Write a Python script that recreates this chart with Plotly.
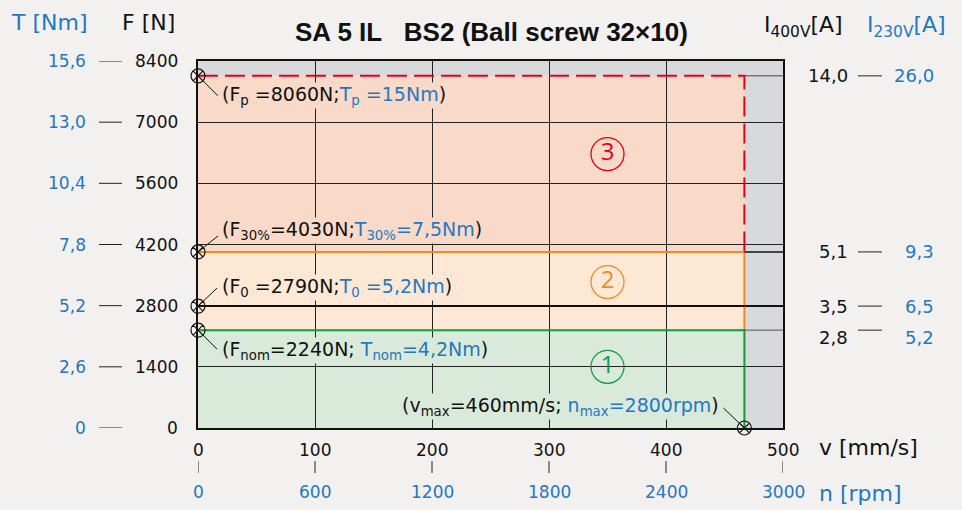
import plotly.graph_objects as go

# ---------------- data ----------------
F_ticks = [0, 1400, 2800, 4200, 5600, 7000, 8400]
T_labels = ["0", "2,6", "5,2", "7,8", "10,4", "13,0", "15,6"]
v_ticks = [0, 100, 200, 300, 400, 500]
n_labels = ["0", "600", "1200", "1800", "2400", "3000"]

F_p, F_30, F_0, F_nom = 8060, 4030, 2790, 2240
v_max = 467
I400_labels = ["14,0", "5,1", "3,5", "2,8"]
I230_labels = ["26,0", "9,3", "6,5", "5,2"]
I_levels = [F_p, F_30, F_0, F_nom]

zone_labels = ["1", "2", "3"]
zone_label_v = [350, 350, 350]
zone_label_F = [1400, 3340, 6270]

# ---------------- style ----------------
BLUE = "#2378c0"
RED = "#e2001a"
ORANGE = "#f08a24"
GREEN = "#0f9a3e"
Z3 = "#f9d9c8"
Z2 = "#fde8d6"
Z1 = "#d9eada"
GRAY = "#d8d9db"
PAPER = "#f2f1ef"
FONT = "DejaVu Sans"

L, R, T, B = 198, 179, 61, 82
W, H = 962, 510
PW, PH = W - L - R, H - T - B


def px_x(p):
    return (p - L) / PW


def px_y(p):
    return (H - B - p) / PH


fig = go.Figure()

# limit lines
fig.add_trace(go.Scatter(x=[0, v_max, v_max], y=[F_p, F_p, F_30], mode="lines",
                         line=dict(color=RED, width=2, dash="20px,7px"), hoverinfo="skip"))
fig.add_trace(go.Scatter(x=[0, v_max, v_max], y=[F_30, F_30, F_nom], mode="lines",
                         line=dict(color=ORANGE, width=2), hoverinfo="skip"))
fig.add_trace(go.Scatter(x=[0, v_max], y=[F_0, F_0], mode="lines",
                         line=dict(color="#111", width=2), hoverinfo="skip"))
fig.add_trace(go.Scatter(x=[0, v_max, v_max], y=[F_nom, F_nom, 0], mode="lines",
                         line=dict(color=GREEN, width=2), hoverinfo="skip"))

# marker points
fig.add_trace(go.Scatter(x=[0, 0, 0, 0, v_max], y=[F_p, F_30, F_0, F_nom, 0], mode="markers",
                         marker=dict(symbol="circle-x-open", size=14, color="#111", line=dict(width=1.2)),
                         cliponaxis=False, hoverinfo="skip"))

# zone numbers
for lab, vv, ff, col in zip(zone_labels, zone_label_v, zone_label_F, [GREEN, ORANGE, RED]):
    fig.add_trace(go.Scatter(x=[vv], y=[ff], mode="markers+text", text=[lab],
                             textposition="middle center",
                             textfont=dict(family="Open Sans", size=24, color=col),
                             marker=dict(symbol="circle-open", size=33, color=col, line=dict(width=1.3)),
                             hoverinfo="skip"))

shapes = []
# zones (below gridlines)
shapes.append(dict(type="rect", xref="x", yref="y", x0=0, x1=v_max, y0=F_30, y1=F_p,
                   fillcolor=Z3, line=dict(width=0), layer="below"))
shapes.append(dict(type="rect", xref="x", yref="y", x0=0, x1=v_max, y0=F_nom, y1=F_30,
                   fillcolor=Z2, line=dict(width=0), layer="below"))
shapes.append(dict(type="rect", xref="x", yref="y", x0=0, x1=v_max, y0=0, y1=F_nom,
                   fillcolor=Z1, line=dict(width=0), layer="below"))

# extension lines to right-hand current labels
ext_cols = ["#444", "#111", "#111", "#555"]
ext_w = [1, 1.5, 2, 1]
for lvl, c, w in zip(I_levels, ext_cols, ext_w):
    shapes.append(dict(type="line", xref="x", yref="y", xsizemode="pixel", xanchor=v_max,
                       x0=0, x1=53, y0=lvl, y1=lvl, line=dict(color=c, width=w)))

# leader lines from markers to labels
leaders = [(0, F_p, 20, -20), (0, F_30, 20, 16), (0, F_0, 19, 18), (0, F_nom, 19, -19), (v_max, 0, -21, 20)]
for vx, fy, dx, dy in leaders:
    shapes.append(dict(type="line", xref="x", yref="y", xsizemode="pixel", ysizemode="pixel",
                       xanchor=vx, yanchor=fy, x0=0, x1=dx, y0=0, y1=dy,
                       line=dict(color="#111", width=1)))

annotations = []

# left tick labels (T, dash, F)
for f, tl in zip(F_ticks, T_labels):
    annotations.append(dict(xref="paper", yref="y", x=px_x(88), y=f, text=tl, showarrow=False,
                            xanchor="right", yanchor="middle", font=dict(family=FONT, size=17, color=BLUE)))
    annotations.append(dict(xref="paper", yref="y", x=px_x(180), y=f, text=str(f), showarrow=False,
                            xanchor="right", yanchor="middle", font=dict(family=FONT, size=17, color="#111")))
    shapes.append(dict(type="line", xref="paper", yref="y", x0=px_x(99), x1=px_x(122), y0=f, y1=f,
                       line=dict(color="#222", width=1)))

# bottom tick labels (v, tick, n)
for v, nl in zip(v_ticks, n_labels):
    annotations.append(dict(xref="x", yref="paper", x=v, y=px_y(450), text=str(v), showarrow=False,
                            xanchor="center", yanchor="middle", font=dict(family=FONT, size=17, color="#111")))
    annotations.append(dict(xref="x", yref="paper", x=v, y=px_y(492), text=nl, showarrow=False,
                            xanchor="center", yanchor="middle", font=dict(family=FONT, size=17, color=BLUE)))
    shapes.append(dict(type="line", xref="x", yref="paper", x0=v, x1=v, y0=px_y(461), y1=px_y(473),
                       line=dict(color="#222", width=1)))

# right current labels
for i, (lvl, a, b) in enumerate(zip(I_levels, I400_labels, I230_labels)):
    ys = -7 if i == 3 else 0
    annotations.append(dict(xref="paper", yref="y", x=px_x(850), y=lvl, yshift=ys, text=a, showarrow=False,
                            xanchor="right", yanchor="middle", font=dict(family=FONT, size=18, color="#111")))
    annotations.append(dict(xref="paper", yref="y", x=px_x(936), y=lvl, yshift=ys, text=b, showarrow=False,
                            xanchor="right", yanchor="middle", font=dict(family=FONT, size=18, color=BLUE)))
    shapes.append(dict(type="line", xref="paper", yref="y", x0=px_x(858), x1=px_x(882), y0=lvl, y1=lvl,
                       line=dict(color="#222", width=1)))

# point labels
def blue(s):
    return f"<span style='color:{BLUE}'>{s}</span>"

pt_font = dict(family=FONT, size=19, color="#111")
annotations += [
    dict(xref="x", yref="y", x=0, y=F_p, xshift=23, yshift=-20, xanchor="left", yanchor="middle",
         text="(F<sub>p</sub> =8060N;" + blue("T<sub>p</sub> =15Nm") + ")", bgcolor=Z3, borderpad=0,
         showarrow=False, font=pt_font),
    dict(xref="x", yref="y", x=0, y=F_30, xshift=23, yshift=21, xanchor="left", yanchor="middle",
         text="(F<sub>30%</sub>=4030N;" + blue("T<sub>30%</sub>=7,5Nm") + ")", bgcolor=Z3, borderpad=0,
         showarrow=False, font=pt_font),
    dict(xref="x", yref="y", x=0, y=F_0, xshift=23, yshift=19, xanchor="left", yanchor="middle",
         text="(F<sub>0</sub> =2790N;" + blue("T<sub>0</sub> =5,2Nm") + ")", bgcolor=Z2, borderpad=0,
         showarrow=False, font=pt_font),
    dict(xref="x", yref="y", x=0, y=F_nom, xshift=23, yshift=-20, xanchor="left", yanchor="middle",
         text="(F<sub>nom</sub>=2240N; " + blue("T<sub>nom</sub>=4,2Nm") + ")", bgcolor=Z1, borderpad=0,
         showarrow=False, font=pt_font),
    dict(xref="x", yref="y", x=v_max, y=0, xshift=-24, yshift=22, xanchor="right", yanchor="middle",
         text="(v<sub>max</sub>=460mm/s; " + blue("n<sub>max</sub>=2800rpm") + ")", bgcolor=Z1, borderpad=0,
         showarrow=False, font=pt_font),
]

# headers and title
hdr = dict(family=FONT, size=22)
annotations += [
    dict(xref="paper", yref="paper", x=px_x(491), y=px_y(32),
         text="<b>SA 5 IL&nbsp;&nbsp;&nbsp;BS2 (Ball screw 32×10)</b>",
         showarrow=False, xanchor="center", yanchor="middle",
         font=dict(family="Liberation Sans, Arial", size=26, color="#111")),
    dict(xref="paper", yref="paper", x=px_x(49), y=px_y(22), text="T [Nm]", showarrow=False,
         xanchor="center", yanchor="middle", font=dict(hdr, color=BLUE)),
    dict(xref="paper", yref="paper", x=px_x(148), y=px_y(22), text="F [N]", showarrow=False,
         xanchor="center", yanchor="middle", font=dict(hdr, color="#111")),
    dict(xref="paper", yref="paper", x=px_x(762), y=px_y(26), text="I<sub>400V</sub>[A]", showarrow=False,
         xanchor="left", yanchor="middle", font=dict(hdr, color="#111")),
    dict(xref="paper", yref="paper", x=px_x(865), y=px_y(26), text="I<sub>230V</sub>[A]", showarrow=False,
         xanchor="left", yanchor="middle", font=dict(hdr, color=BLUE)),
    dict(xref="paper", yref="paper", x=px_x(817), y=px_y(447), text="v [mm/s]", showarrow=False,
         xanchor="left", yanchor="middle", font=dict(hdr, color="#111")),
    dict(xref="paper", yref="paper", x=px_x(817), y=px_y(493), text="n [rpm]", showarrow=False,
         xanchor="left", yanchor="middle", font=dict(hdr, color=BLUE)),
]

fig.update_layout(
    width=W, height=H, autosize=False,
    margin=dict(l=L, r=R, t=T, b=B),
    paper_bgcolor=PAPER, plot_bgcolor=GRAY,
    showlegend=False, hovermode=False,
    shapes=shapes, annotations=annotations,
    xaxis=dict(range=[0, 500], dtick=100, showgrid=True, gridcolor="#222", gridwidth=1,
               zeroline=False, showticklabels=False, ticks="",
               showline=True, mirror=True, linecolor="#111", linewidth=1.5),
    yaxis=dict(range=[0, 8400], dtick=1400, showgrid=True, gridcolor="#222", gridwidth=1,
               zeroline=False, showticklabels=False, ticks="",
               showline=True, mirror=True, linecolor="#111", linewidth=1.5),
)

fig.write_html("out.html", config={"displayModeBar": False},
               post_script="document.body.style.margin='0';document.body.style.background='" + PAPER + "';")
